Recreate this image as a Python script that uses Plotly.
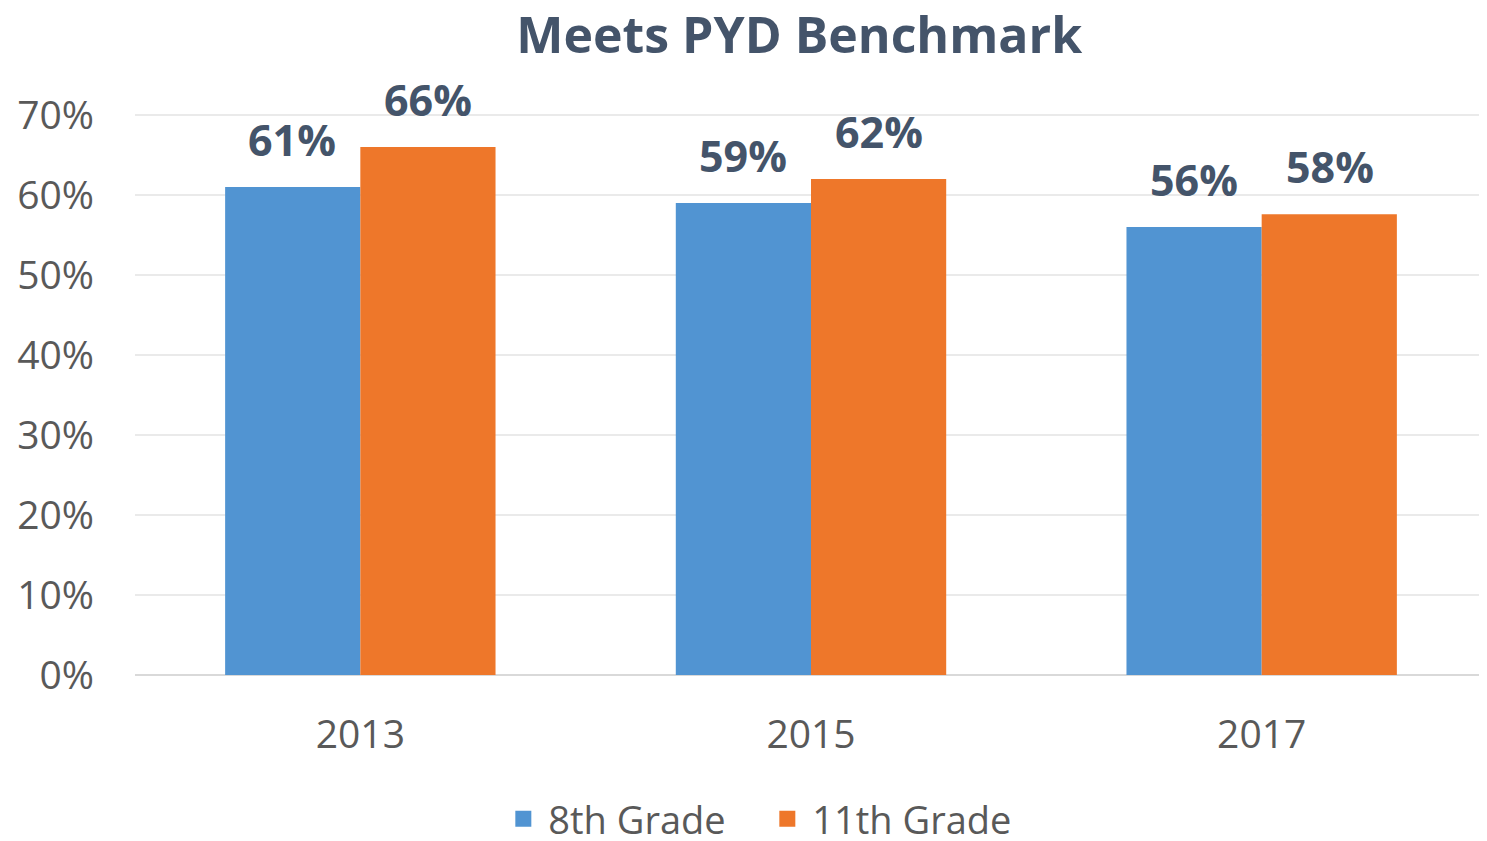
import plotly.graph_objects as go

years = ["2013", "2015", "2017"]
grade8 = [61, 59, 56]
grade11 = [66, 62, 57.6]
tick_vals = [0, 10, 20, 30, 40, 50, 60, 70]
tick_text = ["0%", "10%", "20%", "30%", "40%", "50%", "60%", "70%"]

font = "Open Sans, Noto Sans, sans-serif"
label_color = "#44546A"
blue = "#5194D2"
orange = "#EE772A"

fig = go.Figure()
fig.add_bar(x=years, y=grade8, name="8th Grade", showlegend=False,
            marker=dict(color=blue, line=dict(width=0)))
fig.add_bar(x=years, y=grade11, name="11th Grade", showlegend=False,
            marker=dict(color=orange, line=dict(width=0)))

# legend entries with square swatches
for name, col in [("8th Grade", blue), ("11th Grade", orange)]:
    fig.add_scatter(x=[years[0]], y=[None], mode="markers", name=name,
                    marker=dict(symbol="square", size=24, color=col))

# value labels above the bars (x given as category index)
for series, shift in [(grade8, -68), (grade11, 68)]:
    for i, v in enumerate(series):
        fig.add_annotation(x=i, y=v, text="<b>%.0f%%</b>" % v, showarrow=False,
                           xshift=shift, yshift=16, yanchor="bottom",
                           font=dict(size=43, color=label_color, family=font))

fig.update_layout(
    width=1479, height=833,
    paper_bgcolor="white", plot_bgcolor="white",
    barmode="group", bargap=0.4, bargroupgap=0,
    margin=dict(l=127, r=0, t=91, b=166, autoexpand=False),
    title=dict(text="<b>Meets PYD Benchmark</b>", x=0.535, xanchor="center",
               y=0.9676, yanchor="middle",
               font=dict(size=50, color=label_color, family=font)),
    font=dict(family=font, color="#595959"),
    legend=dict(orientation="h", x=0.464, xanchor="center", y=-0.25, yanchor="middle",
                font=dict(size=38, color="#595959"), itemwidth=40,
                entrywidth=209, entrywidthmode="pixels",
                traceorder="normal"),
)
fig.update_yaxes(range=[0, 72], tickvals=tick_vals, ticktext=tick_text,
                 tickfont=dict(size=39, color="#595959"),
                 showgrid=True, gridcolor="#EAEAEA", gridwidth=2,
                 zeroline=True, zerolinecolor="#D9D9D9", zerolinewidth=2,
                 ticklabelstandoff=40, automargin=False)
fig.update_xaxes(type="category", range=[-0.5, 2.5],
                 tickfont=dict(size=39, color="#595959"),
                 showline=False, ticklabelstandoff=33, automargin=False)

fig.write_html("out.html")
